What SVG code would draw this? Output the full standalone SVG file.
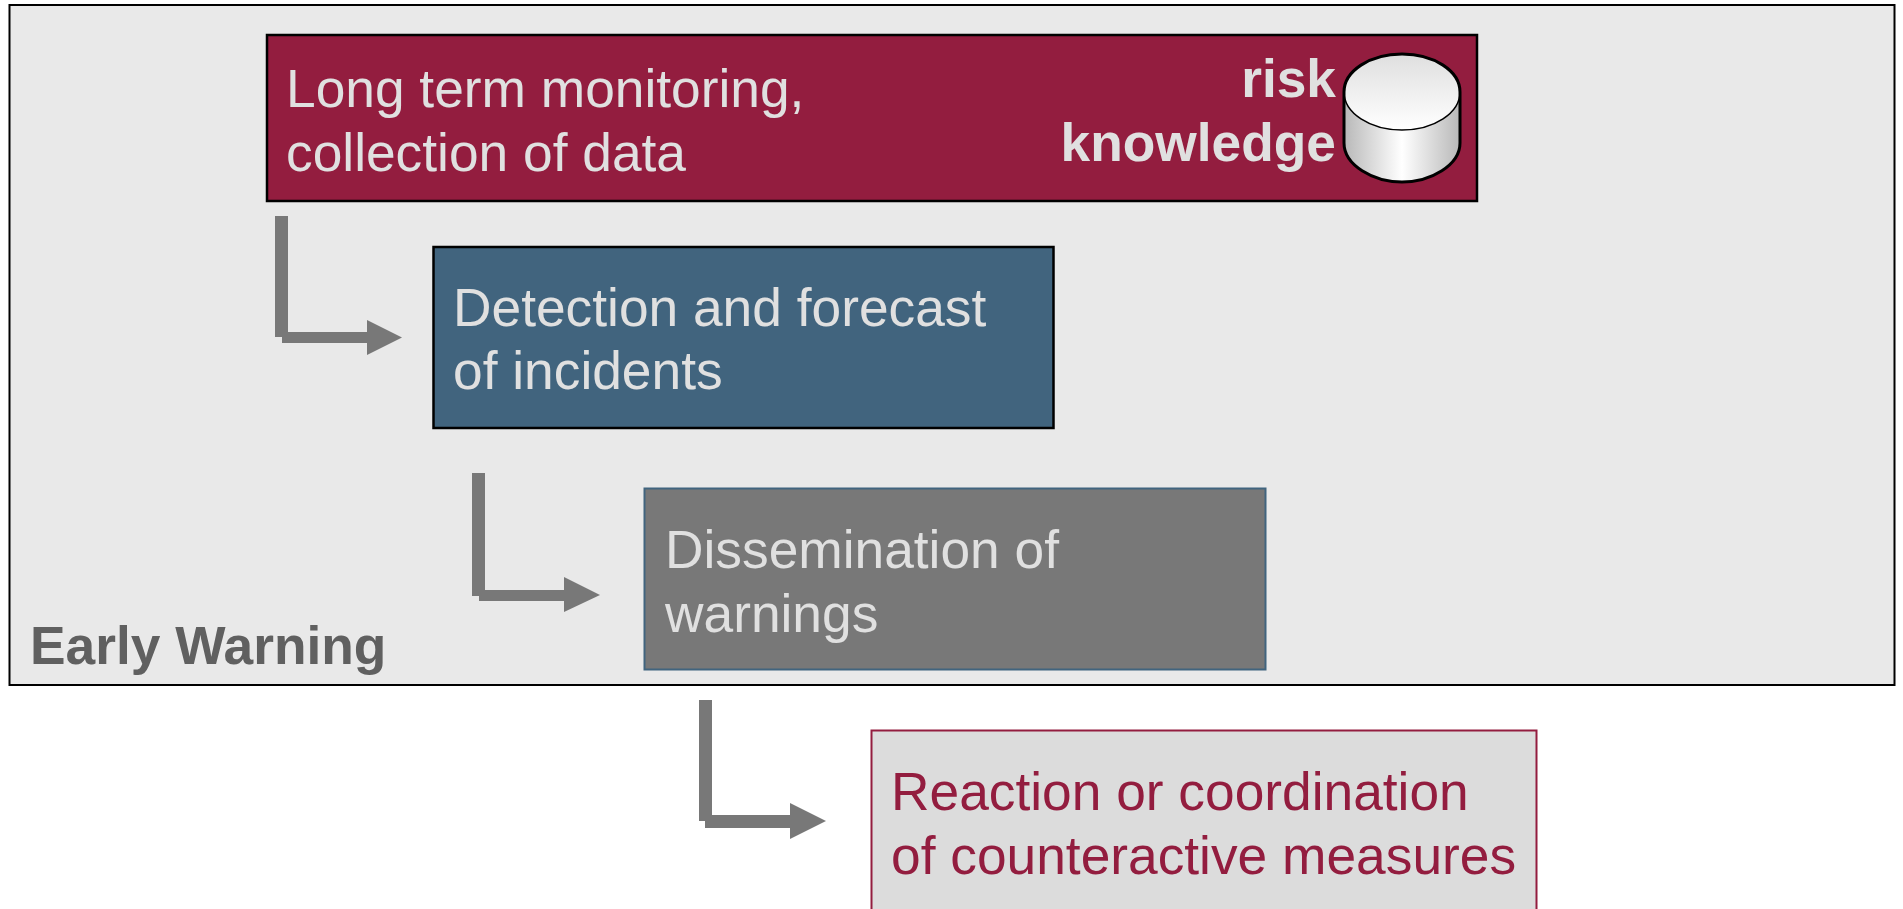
<svg xmlns="http://www.w3.org/2000/svg" width="1903" height="909" viewBox="0 0 1903 909">
<style>
text{font-family:"Liberation Sans",Arial,sans-serif;font-size:53.3px}
.l{fill:#e0e0e0}
.b{font-weight:bold}
.a{fill:#787878}
</style>
<defs>
<linearGradient id="top" x1="0" y1="0" x2="0" y2="1"><stop offset="0" stop-color="#dfdfdf"/><stop offset="1" stop-color="#ffffff"/></linearGradient>
<linearGradient id="side" x1="0" y1="0" x2="1" y2="0"><stop offset="0" stop-color="#b8b8b8"/><stop offset="0.5" stop-color="#ffffff"/><stop offset="1" stop-color="#b8b8b8"/></linearGradient>
</defs>
<rect width="1903" height="909" fill="#fff"/>
<g id="early-warning">
<rect x="9.500" y="5" width="1885" height="680" fill="#e9e9e9" stroke="#000" stroke-width="2"/>
<text x="30" y="664" class="b" fill="#606060">Early Warning</text>
</g>
<g id="connectors">
<path class="a" d="M275 216H288V332H367V320L402 337.500L367 355V343H282V337H275Z"/>
<path class="a" d="M472 473H485V590H564V577L600 595L564 612V601H479V596H472Z"/>
<path class="a" d="M699 700H712V815H790V803L826 821L790 839V828H705V821H699Z"/>
</g>
<g id="long-term">
<rect x="267" y="35" width="1210" height="166" fill="#931d3f" stroke="#000" stroke-width="2.500"/>
<text x="286" y="107" class="l">Long term monitoring,</text>
<text x="286" y="170.500" class="l">collection of data</text>
<text x="1336" y="97" text-anchor="end" class="l b">risk</text>
<text x="1336" y="161" text-anchor="end" class="l b">knowledge</text>
</g>
<g id="risk-knowledge-db">
<path d="M1344 92V143C1344 165 1373 182 1402 182C1431 182 1460 165 1460 143V92Z" fill="url(#side)"/>
<ellipse cx="1402" cy="92" rx="58" ry="38" fill="url(#top)" stroke="#000" stroke-width="1.500"/>
<path d="M1344 92C1344 71 1370 54 1402 54C1434 54 1460 71 1460 92V143C1460 165 1431 182 1402 182C1373 182 1344 165 1344 143Z" fill="none" stroke="#000" stroke-width="3"/>
</g>
<g id="detection">
<rect x="433.500" y="247" width="620" height="181" fill="#41647e" stroke="#000" stroke-width="2.500"/>
<text x="453" y="326" class="l">Detection and forecast</text>
<text x="453" y="389" class="l">of incidents</text>
</g>
<g id="dissemination">
<rect x="644.500" y="488.500" width="621" height="181" fill="#787878" stroke="#41647e" stroke-width="2"/>
<text x="665" y="568" class="l">Dissemination of</text>
<text x="665" y="632" class="l">warnings</text>
</g>
<g id="reaction">
<rect x="871.500" y="730.500" width="665" height="200" fill="#dcdcdc" stroke="#931d3f" stroke-width="2"/>
<text x="891" y="810" fill="#931d3f">Reaction or coordination</text>
<text x="891" y="874" fill="#931d3f">of counteractive measures</text>
</g>
</svg>
